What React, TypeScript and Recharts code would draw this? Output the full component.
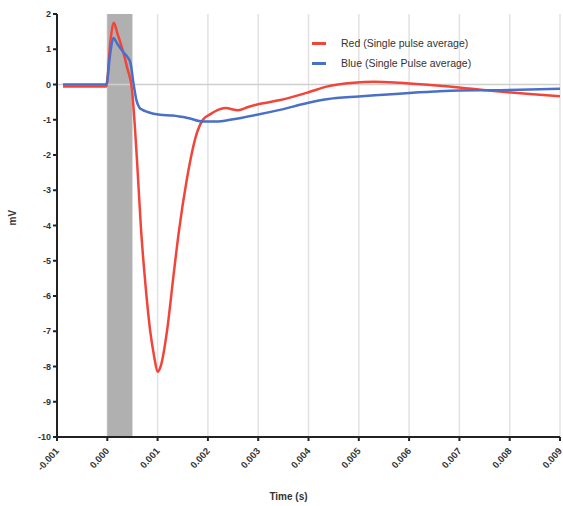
import React from 'react';
import {
  LineChart, Line, XAxis, YAxis, CartesianGrid, ReferenceArea, ReferenceLine,
} from 'recharts';

const xTicks = [-0.001, 0, 0.001, 0.002, 0.003, 0.004, 0.005, 0.006, 0.007, 0.008, 0.009];
const yTicks = [2, 1, 0, -1, -2, -3, -4, -5, -6, -7, -8, -9, -10];

const redT = [-0.00088, -0.00002, 0.00006, 0.00013, 0.0002, 0.0003, 0.0004, 0.00049, 0.00059, 0.00067, 0.00076, 0.00085, 0.00093, 0.001, 0.00106, 0.00119, 0.00131, 0.00142, 0.00158, 0.00178, 0.0019, 0.00205, 0.0022, 0.00235, 0.0026, 0.0028, 0.003, 0.00344, 0.004, 0.00436, 0.0049, 0.0053, 0.0058, 0.0063, 0.0068, 0.0073, 0.0078, 0.0084, 0.009];
const redV = [-0.06, -0.06, 1.2, 1.75, 1.45, 1.0, 0.45, -0.13, -2.14, -4.1, -5.7, -6.96, -7.7, -8.15, -8.0, -6.96, -5.5, -4.2, -2.7, -1.38, -1.0, -0.84, -0.72, -0.67, -0.73, -0.64, -0.56, -0.44, -0.22, -0.06, 0.05, 0.08, 0.05, 0.0, -0.06, -0.13, -0.2, -0.27, -0.33];

const blueT = [-0.00088, -0.00002, 0.00006, 0.00012, 0.0002, 0.0003, 0.0004, 0.00046, 0.00052, 0.00058, 0.00064, 0.0007, 0.0008, 0.00105, 0.0013, 0.0016, 0.0019, 0.0022, 0.00244, 0.003, 0.00343, 0.004, 0.00436, 0.005, 0.0054, 0.0058, 0.0065, 0.007, 0.0078, 0.0084, 0.009];
const blueV = [0, 0, 0.9, 1.32, 1.15, 0.95, 0.78, 0.62, 0.04, -0.45, -0.66, -0.72, -0.78, -0.86, -0.88, -0.95, -1.05, -1.05, -1.0, -0.85, -0.72, -0.52, -0.42, -0.34, -0.3, -0.26, -0.2, -0.17, -0.16, -0.14, -0.12];

const seriesNames = ['Red (Single pulse average)', 'Blue (Single Pulse average)'];
const seriesColors = ['#f2453a', '#4a6fc9'];
const pulseStart = 0;
const pulseEnd = 0.0005;

const redData = redT.map((t, i) => ({ t, v: redV[i] }));
const blueData = blueT.map((t, i) => ({ t, v: blueV[i] }));

const FONT = 'Liberation Sans, Arial, sans-serif';

const XTick = (props: any) => {
  const { x, y, payload } = props;
  return (
    <g transform={`translate(${x},${y + 6})`}>
      <text
        x={0}
        y={0}
        textAnchor="end"
        dominantBaseline="central"
        transform="rotate(-48)"
        fontSize={9.5}
        fontWeight="bold"
        fill="#333"
        fontFamily={FONT}
      >
        {Number(payload.value).toFixed(3)}
      </text>
    </g>
  );
};

export default function App() {
  return (
    <div style={{ position: 'absolute', left: 0, top: 0, width: 563, height: 506, background: '#fff' }}>
      <LineChart width={563} height={506} margin={{ top: 14, right: 3, bottom: 0, left: 0 }}>
        <CartesianGrid vertical horizontal={false} stroke="#e2e2e2" strokeWidth={1.5} />
        <ReferenceArea x1={pulseStart} x2={pulseEnd} y1={-10} y2={2} fill="#b0b0b0" fillOpacity={1} stroke="none" />
        <ReferenceLine y={0} stroke="#cfcfcf" strokeWidth={1.5} />
        <XAxis
          dataKey="t"
          type="number"
          domain={[-0.001, 0.009]}
          ticks={xTicks}
          allowDuplicatedCategory={false}
          height={69}
          stroke="#222"
          strokeWidth={2}
          tickSize={4}
          tick={<XTick />}
          interval={0}
          label={{ value: 'Time (s)', position: 'insideBottom', offset: 6, dx: -20, fontSize: 10, fontWeight: 'bold', fill: '#333', fontFamily: FONT }}
        />
        <YAxis
          type="number"
          domain={[-10, 2]}
          ticks={yTicks}
          width={57}
          stroke="#222"
          strokeWidth={2}
          tickSize={4}
          interval={0}
          tick={{ fontSize: 9, fontWeight: 'bold', fill: '#333', fontFamily: FONT }}
          label={{ value: 'mV', angle: -90, position: 'insideLeft', offset: 12, fontSize: 10, fontWeight: 'bold', fill: '#333', fontFamily: FONT }}
        />
        <Line data={redData} dataKey="v" name={seriesNames[0]} type="monotone" stroke={seriesColors[0]} strokeWidth={2.5} dot={false} isAnimationActive={false} />
        <Line data={blueData} dataKey="v" name={seriesNames[1]} type="monotone" stroke={seriesColors[1]} strokeWidth={2.5} dot={false} isAnimationActive={false} />
      </LineChart>
      <div style={{ position: 'absolute', left: 312, top: 33, fontFamily: FONT, fontSize: 10.5, color: '#333' }}>
        {seriesNames.map((n, i) => (
          <div key={n} style={{ display: 'flex', alignItems: 'center', height: 20 }}>
            <span style={{ display: 'inline-block', width: 14, height: 3, background: seriesColors[i], marginRight: 15 }} />
            <span>{n}</span>
          </div>
        ))}
      </div>
    </div>
  );
}
